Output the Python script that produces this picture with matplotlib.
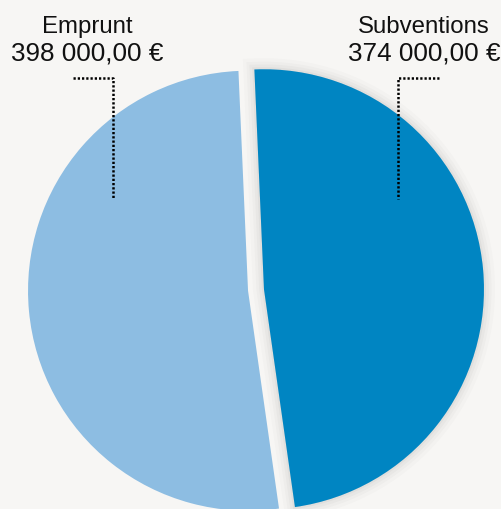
import numpy as np
import matplotlib
matplotlib.use("Agg")
import matplotlib.pyplot as plt
import matplotlib.patheffects as pe

labels = ["Subventions", "Emprunt"]
values = [374000, 398000]
colors = ["#0085c2", "#8dbde2"]
amounts = ["374 000,00 €", "398 000,00 €"]

W, H = 502, 509
R = 220.0          # pie radius in pixels
CX, CY = 256, 290  # pie centre in pixels

plt.rcParams['font.family'] = ['Liberation Sans', 'DejaVu Sans']

fig = plt.figure(figsize=(W / 100, H / 100), dpi=100)
fig.patch.set_facecolor("#f7f6f4")
ax = fig.add_axes([0, 0, 1, 1])
ax.set_facecolor("#f7f6f4")

wedges, _ = ax.pie(values, colors=colors, startangle=92.5, counterclock=False,
                   explode=[8 / R, 8 / R], radius=1, center=(0, 0), frame=False)
# data units: pie radius = 1, centred at 0,0
ax.set_xlim(-CX / R, (W - CX) / R)
ax.set_ylim((CY - H) / R, CY / R)
ax.set_aspect("auto")
ax.axis("off")

# soft shadow around the dark slice
wedges[0].set_path_effects([
    pe.Stroke(linewidth=16, foreground="#000000", alpha=0.015),
    pe.Stroke(linewidth=11, foreground="#000000", alpha=0.02),
    pe.Stroke(linewidth=7, foreground="#000000", alpha=0.025),
    pe.Stroke(linewidth=3, foreground="#000000", alpha=0.03),
    pe.Normal()])
wedges[0].set_zorder(1)
wedges[1].set_zorder(2)


def fx(x):
    return x / W


def fy(y):
    return 1 - y / H


# labels and dotted leaders (pixel layout)
label_x = [424, 87]
corner_x = [398, 113]
tail_x = [439, 73]
for i in range(2):
    fig.text(fx(label_x[i]), fy(33), labels[i], ha="center", va="baseline",
             fontsize=17.3, color="#111111")
    fig.text(fx(label_x[i]), fy(61), amounts[i], ha="center", va="baseline",
             fontsize=18.8, color="#111111")
    fig.add_artist(plt.Line2D([fx(tail_x[i]), fx(corner_x[i]), fx(corner_x[i])],
                              [fy(78), fy(78), fy(199)],
                              transform=fig.transFigure, color="#000000",
                              linewidth=1.8, linestyle=(0, (0.9, 0.8)),
                              dash_capstyle="butt", zorder=5))

fig.savefig("out.png", dpi=100, facecolor=fig.get_facecolor())
